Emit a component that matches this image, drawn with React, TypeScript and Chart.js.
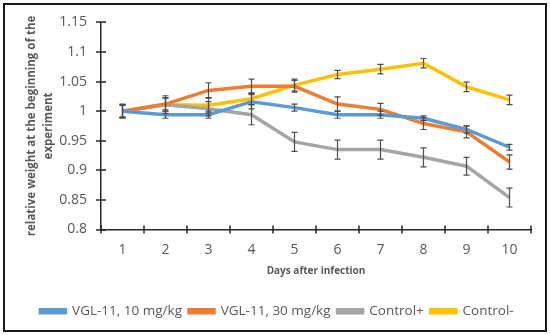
import React, { useEffect, useRef } from "react";
import { Chart, registerables } from "chart.js";

Chart.register(...registerables);

const days = ["1", "2", "3", "4", "5", "6", "7", "8", "9", "10"];

const vgl10 = [1.0, 0.994, 0.994, 1.016, 1.006, 0.994, 0.994, 0.988, 0.969, 0.939];
const vgl10Err = [0.011, 0.006, 0.006, 0.012, 0.006, 0.006, 0.006, 0.004, 0.006, 0.005];

const vgl30 = [1.0, 1.012, 1.035, 1.042, 1.042, 1.012, 1.003, 0.979, 0.965, 0.914];
const vgl30Err = [0.01, 0.01, 0.013, 0.012, 0.01, 0.012, 0.01, 0.01, 0.01, 0.012];

const controlPlus = [1.0, 1.011, 1.004, 0.994, 0.948, 0.935, 0.935, 0.922, 0.907, 0.854];
const controlPlusErr = [0.012, 0.015, 0.012, 0.017, 0.016, 0.016, 0.016, 0.016, 0.015, 0.016];

const controlMinus = [1.0, 1.011, 1.01, 1.021, 1.044, 1.062, 1.071, 1.081, 1.041, 1.019];
const controlMinusErr = [0.01, 0.012, 0.013, 0.01, 0.01, 0.007, 0.008, 0.008, 0.008, 0.008];

const seriesNames = ["VGL-11, 10 mg/kg", "VGL-11, 30 mg/kg", "Control+", "Control-"];
const seriesColors = ["#5B9BD5", "#ED7D31", "#A5A5A5", "#FFC000"];
const seriesValues = [vgl10, vgl30, controlPlus, controlMinus];
const seriesErrors = [vgl10Err, vgl30Err, controlPlusErr, controlMinusErr];

const FONT = "'Open Sans', 'Liberation Sans', sans-serif";
const TEXT = "#595959";
const AXIS = "#262626";

const errorBarPlugin = {
  id: "errorBars",
  beforeDraw(chart: any) {
    const { ctx } = chart;
    ctx.save();
    ctx.fillStyle = "#ffffff";
    ctx.fillRect(0, 0, chart.width, chart.height);
    ctx.strokeStyle = "#1a1a1a";
    ctx.lineWidth = 2;
    ctx.strokeRect(4, 4, chart.width - 8, chart.height - 8);
    ctx.restore();
  },
  afterDatasetsDraw(chart: any) {
    const { ctx } = chart;
    const yScale = chart.scales.y;
    const xScale = chart.scales.x;
    ctx.save();
    ctx.strokeStyle = "#4d4d4d";
    ctx.lineWidth = 1.2;
    chart.data.datasets.forEach((ds: any, di: number) => {
      const meta = chart.getDatasetMeta(di);
      const errs = seriesErrors[di];
      meta.data.forEach((pt: any, i: number) => {
        const v = ds.data[i];
        const e = errs[i];
        const x = pt.x;
        const yTop = yScale.getPixelForValue(v + e);
        const yBot = yScale.getPixelForValue(v - e);
        ctx.beginPath();
        ctx.moveTo(x, yTop);
        ctx.lineTo(x, yBot);
        ctx.moveTo(x - 3, yTop);
        ctx.lineTo(x + 3, yTop);
        ctx.moveTo(x - 3, yBot);
        ctx.lineTo(x + 3, yBot);
        ctx.stroke();
      });
    });
    // crossing tick marks
    ctx.strokeStyle = AXIS;
    ctx.lineWidth = 1.5;
    const left = chart.chartArea.left;
    const bottom = chart.chartArea.bottom;
    yScale.ticks.forEach((t: any) => {
      const y = Math.round(yScale.getPixelForValue(t.value));
      ctx.beginPath();
      ctx.moveTo(left - 5, y);
      ctx.lineTo(left + 5, y);
      ctx.stroke();
    });
    const n = days.length;
    for (let i = 0; i <= n; i++) {
      const x = Math.round(xScale.getPixelForValue(i - 0.5));
      ctx.beginPath();
      ctx.moveTo(x, bottom - 4);
      ctx.lineTo(x, bottom + 4);
      ctx.stroke();
    }
    ctx.restore();
  },
};

export default function App() {
  const ref = useRef<HTMLCanvasElement | null>(null);

  useEffect(() => {
    if (!ref.current) return;
    const chart = new Chart(ref.current, {
      type: "line",
      data: {
        labels: days,
        datasets: seriesValues.map((vals, i) => ({
          label: seriesNames[i],
          data: vals,
          borderColor: seriesColors[i],
          backgroundColor: seriesColors[i],
          borderWidth: 3.5,
          pointRadius: 0,
          tension: 0,
          fill: false,
        })),
      },
      options: {
        animation: false,
        responsive: false,
        devicePixelRatio: 1,
        layout: { padding: { left: 23, right: 19, top: 20, bottom: 7 } },
        plugins: {
          legend: {
            position: "bottom",
            labels: {
              boxWidth: 25,
              boxHeight: 3,
              padding: 7,
              color: TEXT,
              font: { family: FONT, size: 13.5 },
            },
          },
          tooltip: { enabled: false },
        },
        scales: {
          x: {
            offset: true,
            grid: { display: true, drawOnChartArea: false, drawTicks: false, offset: true },
            border: { display: true, color: AXIS, width: 1.5 },
            ticks: { color: TEXT, font: { family: FONT, size: 14 }, padding: 12 },
            title: {
              display: true,
              text: "Days after infection",
              color: TEXT,
              font: { family: FONT, size: 10, weight: "bold" },
              padding: { top: 4, bottom: 20 },
            },
            afterFit: (scale: any) => {
              scale.height = 68;
            },
          },
          y: {
            min: 0.8,
            max: 1.15,
            grid: { display: true, drawOnChartArea: false, drawTicks: false },
            border: { display: true, color: AXIS, width: 1.5 },
            ticks: {
              stepSize: 0.05,
              color: TEXT,
              font: { family: FONT, size: 14 },
              padding: 14,
              callback: (v: any) => String(Number(Number(v).toFixed(2))),
            },
            title: {
              display: true,
              text: ["relative weight at the beginning of the", "experiment"],
              color: TEXT,
              font: { family: FONT, size: 11.5, weight: "bold", lineHeight: 1.5 },
              padding: { top: 0, bottom: 0 },
            },
            afterFit: (scale: any) => {
              scale.width = 78;
            },
          },
        },
      },
      plugins: [errorBarPlugin],
    });
    return () => chart.destroy();
  }, []);

  return (
    <div style={{ position: "absolute", left: 0, top: 0, width: 550, height: 335 }}>
      <canvas ref={ref} width={550} height={335} style={{ display: "block" }} />
    </div>
  );
}
